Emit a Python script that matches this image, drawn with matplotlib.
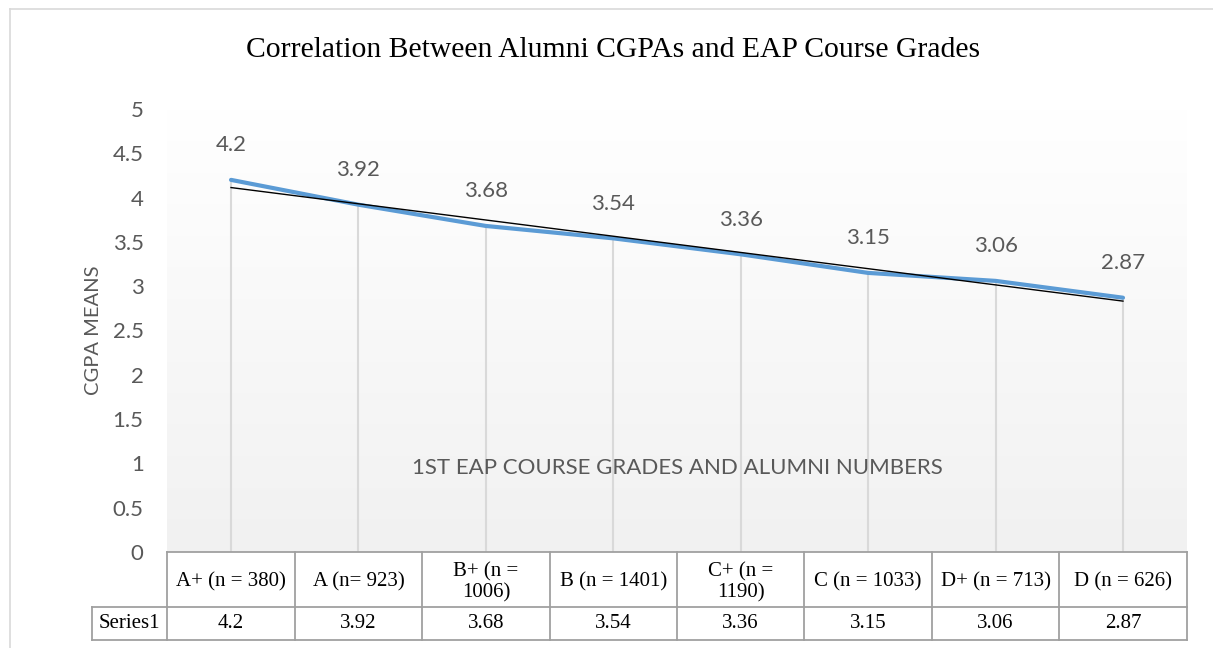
import textwrap
import numpy as np
import matplotlib
matplotlib.use('Agg')
import matplotlib.pyplot as plt
from matplotlib.transforms import blended_transform_factory
from matplotlib.lines import Line2D
from matplotlib.ticker import FuncFormatter

# data
grades = ['A+ (n = 380)', 'A (n= 923)', 'B+ (n = 1006)', 'B (n = 1401)',
          'C+ (n = 1190)', 'C (n = 1033)', 'D+ (n = 713)', 'D (n = 626)']
cgpa = [4.2, 3.92, 3.68, 3.54, 3.36, 3.15, 3.06, 2.87]
series_name = 'Series1'
title = 'Correlation Between Alumni CGPAs and EAP Course Grades'

W, H = 1213, 648
grey_txt = '#595959'
sans = ['Lato', 'DejaVu Sans']
serif = ['Liberation Serif', 'DejaVu Serif']

fig = plt.figure(figsize=(W / 100, H / 100), dpi=100)
ax = fig.add_axes([167.3 / W, 1 - 552 / H, 1019.4 / W, 443 / H])

x = np.arange(1, len(cgpa) + 1)
ax.set_xlim(0.5, len(cgpa) + 0.5)
ax.set_ylim(0, 5)

# light gradient fill of the plot area
grad = np.linspace(1.0, 0.945, 256).reshape(-1, 1)
ax.imshow(np.dstack([grad, grad, grad]), extent=[0.5, len(cgpa) + 0.5, 0, 5],
          aspect='auto', origin='upper', zorder=0)

# drop lines, series line and linear trendline
ax.vlines(x, 0, cgpa, color='#d9d9d9', lw=1.5, zorder=1)
ax.plot(x, cgpa, color='#5b9bd5', lw=3, solid_capstyle='round', zorder=3)
coef = np.polyfit(x, cgpa, 1)
ax.plot(x, np.polyval(coef, x), color='black', lw=1, zorder=4)

for xi, v in zip(x, cgpa):
    ax.annotate(f'{v:g}', (xi, v), xytext=(0, 25), textcoords='offset points',
                ha='center', va='center', fontsize=16, color=grey_txt, family=sans)

ax.set_yticks(np.arange(0, 5.01, 0.5))
ax.yaxis.set_major_formatter(FuncFormatter(lambda v, p: f'{v:g}'))
ax.set_xticks([])
ax.tick_params(axis='y', length=0, pad=17, labelsize=16, labelcolor=grey_txt)
for lab in ax.get_yticklabels():
    lab.set_family(sans)
    lab.set_verticalalignment('center_baseline')
for s in ax.spines.values():
    s.set_visible(False)

ax.set_ylabel('CGPA MEANS', fontsize=14.5, color=grey_txt, family=sans, labelpad=8)
ax.text(0.5, 0.19, '1ST EAP COURSE GRADES AND ALUMNI NUMBERS', transform=ax.transAxes,
        ha='center', va='center', fontsize=16, color=grey_txt, family=sans)

# data table under the axis
tr = blended_transform_factory(ax.transData, ax.transAxes)
h1, h2 = 55.3 / 443, 32.3 / 443
x_left = 0.5 - 75 / 127.4
x_right = len(cgpa) + 0.5
tc = '#a0a0a0'
kw = dict(color=tc, lw=1.3, transform=tr, clip_on=False)
ax.plot([0.5, x_right], [0, 0], **kw)
ax.plot([x_left, x_right], [-h1, -h1], **kw)
ax.plot([x_left, x_right], [-h1 - h2, -h1 - h2], **kw)
for e in np.arange(0.5, x_right + 0.01, 1):
    ax.plot([e, e], [0, -h1 - h2], **kw)
ax.plot([x_left, x_left], [-h1, -h1 - h2], **kw)

for xi, g, v in zip(x, grades, cgpa):
    ax.text(xi, -h1 / 2 - 0.006, textwrap.fill(g, 12), transform=tr, ha='center',
            va='center', fontsize=15, family=serif, linespacing=1.1)
    ax.text(xi, -h1 - h2 / 2, f'{v:g}', transform=tr, ha='center', va='center',
            fontsize=15, family=serif)
ax.text((x_left + 0.5) / 2, -h1 - h2 / 2, series_name, transform=tr, ha='center',
        va='center', fontsize=15, family=serif)

# chart title and outer border
fig.text(613 / W, 1 - 57.3 / H, title, ha='center', va='baseline', fontsize=21.3,
         family=serif)
bx, by = 10 / W, 1 - 9 / H
fig.add_artist(Line2D([bx, bx], [0, by], color='#d9d9d9', lw=1.2))
fig.add_artist(Line2D([bx, 1], [by, by], color='#d9d9d9', lw=1.2))

fig.savefig('out.png', dpi=100)
